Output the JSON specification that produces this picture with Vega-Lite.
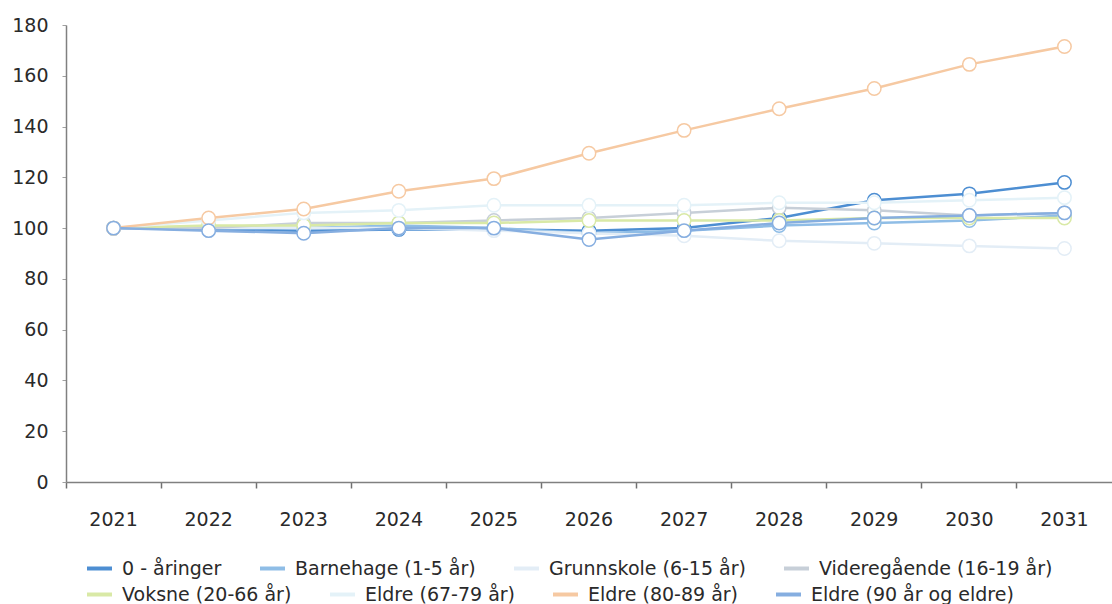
{
  "$schema": "https://vega.github.io/schema/vega-lite/v6.json",
  "autosize": {"type": "none"},
  "padding": {"left": 66, "top": 25, "right": 0, "bottom": 122},
  "width": 1046,
  "height": 457,
  "background": "white",
  "config": {
    "view": {"stroke": null},
    "font": "DejaVu Sans",
    "axis": {"labelFont": "DejaVu Sans", "labelFontSize": 18, "labelColor": "#2a2a2a", "domainColor": "#808080", "tickColor": "#a0a0a0", "grid": false, "title": null},
    "legend": {
      "title": null, "orient": "none", "direction": "horizontal", "columns": 4, "gridAlign": "none",
      "symbolType": "stroke", "symbolStrokeWidth": 4, "symbolSize": 625,
      "labelFont": "DejaVu Sans", "labelFontSize": 19, "labelColor": "#2a2a2a",
      "labelOffset": 8, "columnPadding": 30, "labelLimit": 400
    }
  },
  "datasets": {
    "d": [
      {"year": "2021", "series": "0 - åringer", "value": 100},
      {"year": "2022", "series": "0 - åringer", "value": 99.5},
      {"year": "2023", "series": "0 - åringer", "value": 99},
      {"year": "2024", "series": "0 - åringer", "value": 99.5},
      {"year": "2025", "series": "0 - åringer", "value": 99.5},
      {"year": "2026", "series": "0 - åringer", "value": 99},
      {"year": "2027", "series": "0 - åringer", "value": 100},
      {"year": "2028", "series": "0 - åringer", "value": 104},
      {"year": "2029", "series": "0 - åringer", "value": 111},
      {"year": "2030", "series": "0 - åringer", "value": 113.5},
      {"year": "2031", "series": "0 - åringer", "value": 118},
      {"year": "2021", "series": "Barnehage (1-5 år)", "value": 100},
      {"year": "2022", "series": "Barnehage (1-5 år)", "value": 100},
      {"year": "2023", "series": "Barnehage (1-5 år)", "value": 100},
      {"year": "2024", "series": "Barnehage (1-5 år)", "value": 101},
      {"year": "2025", "series": "Barnehage (1-5 år)", "value": 100},
      {"year": "2026", "series": "Barnehage (1-5 år)", "value": 98},
      {"year": "2027", "series": "Barnehage (1-5 år)", "value": 99},
      {"year": "2028", "series": "Barnehage (1-5 år)", "value": 101},
      {"year": "2029", "series": "Barnehage (1-5 år)", "value": 102},
      {"year": "2030", "series": "Barnehage (1-5 år)", "value": 103},
      {"year": "2031", "series": "Barnehage (1-5 år)", "value": 105},
      {"year": "2021", "series": "Grunnskole (6-15 år)", "value": 100},
      {"year": "2022", "series": "Grunnskole (6-15 år)", "value": 100},
      {"year": "2023", "series": "Grunnskole (6-15 år)", "value": 100},
      {"year": "2024", "series": "Grunnskole (6-15 år)", "value": 100},
      {"year": "2025", "series": "Grunnskole (6-15 år)", "value": 99},
      {"year": "2026", "series": "Grunnskole (6-15 år)", "value": 98},
      {"year": "2027", "series": "Grunnskole (6-15 år)", "value": 97},
      {"year": "2028", "series": "Grunnskole (6-15 år)", "value": 95},
      {"year": "2029", "series": "Grunnskole (6-15 år)", "value": 94},
      {"year": "2030", "series": "Grunnskole (6-15 år)", "value": 93},
      {"year": "2031", "series": "Grunnskole (6-15 år)", "value": 92},
      {"year": "2021", "series": "Videregående (16-19 år)", "value": 100},
      {"year": "2022", "series": "Videregående (16-19 år)", "value": 100},
      {"year": "2023", "series": "Videregående (16-19 år)", "value": 102},
      {"year": "2024", "series": "Videregående (16-19 år)", "value": 102},
      {"year": "2025", "series": "Videregående (16-19 år)", "value": 103},
      {"year": "2026", "series": "Videregående (16-19 år)", "value": 104},
      {"year": "2027", "series": "Videregående (16-19 år)", "value": 106},
      {"year": "2028", "series": "Videregående (16-19 år)", "value": 108},
      {"year": "2029", "series": "Videregående (16-19 år)", "value": 107},
      {"year": "2030", "series": "Videregående (16-19 år)", "value": 105},
      {"year": "2031", "series": "Videregående (16-19 år)", "value": 106},
      {"year": "2021", "series": "Voksne (20-66 år)", "value": 100},
      {"year": "2022", "series": "Voksne (20-66 år)", "value": 101},
      {"year": "2023", "series": "Voksne (20-66 år)", "value": 101},
      {"year": "2024", "series": "Voksne (20-66 år)", "value": 102},
      {"year": "2025", "series": "Voksne (20-66 år)", "value": 102},
      {"year": "2026", "series": "Voksne (20-66 år)", "value": 103},
      {"year": "2027", "series": "Voksne (20-66 år)", "value": 103},
      {"year": "2028", "series": "Voksne (20-66 år)", "value": 103},
      {"year": "2029", "series": "Voksne (20-66 år)", "value": 104},
      {"year": "2030", "series": "Voksne (20-66 år)", "value": 104},
      {"year": "2031", "series": "Voksne (20-66 år)", "value": 104},
      {"year": "2021", "series": "Eldre (67-79 år)", "value": 100},
      {"year": "2022", "series": "Eldre (67-79 år)", "value": 103},
      {"year": "2023", "series": "Eldre (67-79 år)", "value": 106},
      {"year": "2024", "series": "Eldre (67-79 år)", "value": 107},
      {"year": "2025", "series": "Eldre (67-79 år)", "value": 109},
      {"year": "2026", "series": "Eldre (67-79 år)", "value": 109},
      {"year": "2027", "series": "Eldre (67-79 år)", "value": 109},
      {"year": "2028", "series": "Eldre (67-79 år)", "value": 110},
      {"year": "2029", "series": "Eldre (67-79 år)", "value": 110},
      {"year": "2030", "series": "Eldre (67-79 år)", "value": 111},
      {"year": "2031", "series": "Eldre (67-79 år)", "value": 112},
      {"year": "2021", "series": "Eldre (80-89 år)", "value": 100},
      {"year": "2022", "series": "Eldre (80-89 år)", "value": 104},
      {"year": "2023", "series": "Eldre (80-89 år)", "value": 107.5},
      {"year": "2024", "series": "Eldre (80-89 år)", "value": 114.5},
      {"year": "2025", "series": "Eldre (80-89 år)", "value": 119.5},
      {"year": "2026", "series": "Eldre (80-89 år)", "value": 129.5},
      {"year": "2027", "series": "Eldre (80-89 år)", "value": 138.5},
      {"year": "2028", "series": "Eldre (80-89 år)", "value": 147},
      {"year": "2029", "series": "Eldre (80-89 år)", "value": 155},
      {"year": "2030", "series": "Eldre (80-89 år)", "value": 164.5},
      {"year": "2031", "series": "Eldre (80-89 år)", "value": 171.5},
      {"year": "2021", "series": "Eldre (90 år og eldre)", "value": 100},
      {"year": "2022", "series": "Eldre (90 år og eldre)", "value": 99},
      {"year": "2023", "series": "Eldre (90 år og eldre)", "value": 98},
      {"year": "2024", "series": "Eldre (90 år og eldre)", "value": 100},
      {"year": "2025", "series": "Eldre (90 år og eldre)", "value": 100},
      {"year": "2026", "series": "Eldre (90 år og eldre)", "value": 95.5},
      {"year": "2027", "series": "Eldre (90 år og eldre)", "value": 99},
      {"year": "2028", "series": "Eldre (90 år og eldre)", "value": 102},
      {"year": "2029", "series": "Eldre (90 år og eldre)", "value": 104},
      {"year": "2030", "series": "Eldre (90 år og eldre)", "value": 105},
      {"year": "2031", "series": "Eldre (90 år og eldre)", "value": 106}
    ]
  },
  "data": {"name": "d"},
  "encoding": {
    "x": {
      "field": "year", "type": "ordinal",
      "scale": {"type": "band", "paddingInner": 0, "paddingOuter": 0},
      "axis": {"labelAngle": 0, "bandPosition": 0, "labelFontSize": 19, "tickSize": 6, "labelPadding": 22, "domainWidth": 1.5, "tickWidth": 1.5, "tickColor": "#707070"}
    },
    "y": {
      "field": "value", "type": "quantitative",
      "scale": {"domain": [0, 180], "nice": false, "zero": true},
      "axis": {"values": [0, 20, 40, 60, 80, 100, 120, 140, 160, 180], "labelFontSize": 19, "tickSize": 4, "labelPadding": 14, "domainWidth": 1.5}
    }
  },
  "layer": [
    {
      "transform": [{"filter": {"field": "series", "oneOf": ["0 - åringer", "Barnehage (1-5 år)", "Grunnskole (6-15 år)", "Videregående (16-19 år)"]}}],
      "mark": {"type": "line", "strokeWidth": 2.5, "point": {"filled": false, "fill": "white", "size": 180, "strokeWidth": 1.5}},
      "encoding": {
        "color": {
          "field": "series", "type": "nominal",
          "scale": {
            "domain": ["0 - åringer", "Barnehage (1-5 år)", "Grunnskole (6-15 år)", "Videregående (16-19 år)"],
            "range": ["#4d8ed2", "#8fbde6", "#e3edf6", "#c7cfd8"]
          },
          "legend": {"legendX": 19, "legendY": 529}
        }
      }
    },
    {
      "transform": [{"filter": {"field": "series", "oneOf": ["Voksne (20-66 år)", "Eldre (67-79 år)", "Eldre (80-89 år)", "Eldre (90 år og eldre)"]}}],
      "mark": {"type": "line", "strokeWidth": 2.5, "point": {"filled": false, "fill": "white", "size": 180, "strokeWidth": 1.5}},
      "encoding": {
        "color": {
          "field": "series", "type": "nominal",
          "scale": {
            "domain": ["Voksne (20-66 år)", "Eldre (67-79 år)", "Eldre (80-89 år)", "Eldre (90 år og eldre)"],
            "range": ["#d9e9a6", "#e4f2f8", "#f6c9a2", "#86aee0"]
          },
          "legend": {"legendX": 19, "legendY": 555}
        }
      }
    }
  ],
  "resolve": {"scale": {"color": "independent"}, "legend": {"color": "independent"}}
}
